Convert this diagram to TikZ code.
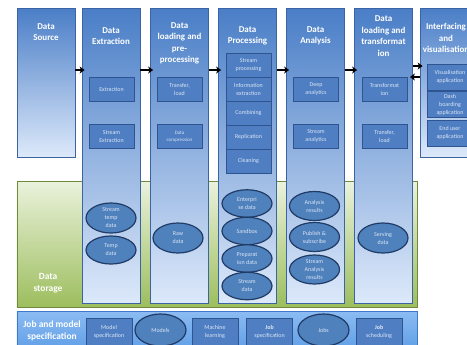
\documentclass[tikz,border=0pt]{standalone}
\usepackage{fontspec}
\setmainfont{Carlito}
\usetikzlibrary{shapes.geometric,arrows.meta}
\definecolor{colTop}{HTML}{4A7EC7}
\definecolor{colBot}{HTML}{DDE9FA}
\definecolor{colLine}{HTML}{3B64A4}
\definecolor{boxFill}{HTML}{4F7FC2}
\definecolor{boxLine}{HTML}{2E5590}
\definecolor{boxText}{HTML}{DCE6F5}
\definecolor{ellFill}{HTML}{4F81BD}
\definecolor{ellLine}{HTML}{1F3B66}
\definecolor{greenTop}{HTML}{EAF2DC}
\definecolor{greenBot}{HTML}{9DBE5E}
\definecolor{greenLine}{HTML}{6F8B3A}
\definecolor{jobTop}{HTML}{8CBCF2}
\definecolor{jobBot}{HTML}{4A90E2}
\definecolor{jobLine}{HTML}{3D78C9}
\tikzset{
  column/.style={draw=colLine, line width=0.8bp, top color=colTop, bottom color=colBot, minimum width=58bp, inner sep=0},
  title/.style={text=white, font=\fontsize{9}{11.5}\selectfont\bfseries, align=center},
  task/.style={draw=boxLine, line width=0.8bp, fill=boxFill, text=boxText, font=\fontsize{6}{8}\selectfont, align=center, minimum width=45bp, minimum height=24bp, inner sep=0},
  store/.style={ellipse, draw=ellLine, line width=1.2bp, fill=ellFill, text=boxText, font=\fontsize{6}{8}\selectfont, align=center, minimum width=50bp, minimum height=29bp, inner sep=0},
  arr/.style={-{Stealth[length=5bp,width=7bp,inset=1.5bp]}, line width=1.5bp, shorten >=-3bp},
}
\begin{document}
\begin{tikzpicture}[x=1bp,y=-1bp]
\useasboundingbox (0,0) rectangle (467,344);
\clip (0,0) rectangle (467,344);
% storage layer and job bar
\node[draw=greenLine, line width=0.8bp, top color=greenTop, bottom color=greenBot, minimum width=400bp, minimum height=126bp, inner sep=0] (storage) at (217,244) {};
\node[draw=jobLine, line width=0.8bp, top color=jobTop, bottom color=jobBot, minimum width=400bp, minimum height=58bp, inner sep=0] (jobbar) at (217,340) {};
% columns
\node[column, minimum height=149bp] (src) at (46,82.5) {};
\node[column, minimum height=295bp] (extr) at (111,155.5) {};
\node[column, minimum height=295bp] (load) at (179.5,155.5) {};
\node[column, minimum height=295bp] (proc) at (247.5,155.5) {};
\node[column, minimum height=295bp] (anal) at (315.5,155.5) {};
\node[column, minimum height=295bp] (trans) at (383.5,155.5) {};
\node[column, minimum height=149bp] (vis) at (449,82.5) {};
% titles
\node[title] (srcT) at (46,32) {Data\\Source};
\node[title] (extrT) at (111,36) {Data\\Extraction};
\node[title] (loadT) at (179.5,43.5) {Data\\loading and\\pre-\\processing};
\node[title] (procT) at (247.5,36) {Data\\Processing};
\node[title] (analT) at (315.5,36) {Data\\Analysis};
\node[title] (transT) at (383.5,36) {Data\\loading and\\transformat\\ion};
\node[title] (visT) at (446,38) {Interfacing\\and\\visualisation};
\node[title, font=\fontsize{9.5}{12}\selectfont\bfseries] (storeT) at (48,283) {Data\\storage};
\node[title, font=\fontsize{9.5}{12}\selectfont\bfseries] (jobT) at (52,331) {Job and model\\specification};
% tasks
\node[task] (extraction) at (111.5,89) {Extraction};
\node[task] (streamExtr) at (111.5,136.5) {Stream\\Extraction};
\node[task] (transferA) at (179.5,89) {Transfer,\\load};
\node[task, font=\fontsize{5}{7}\selectfont] (compress) at (179.5,136.5) {Data\\compression};
\node[task] (streamProc) at (248.5,65) {Stream\\processing};
\node[task] (infoExtr) at (248.5,89) {Information\\extraction};
\node[task] (combining) at (248.5,113) {Combining};
\node[task] (replication) at (248.5,137) {Replication};
\node[task] (cleaning) at (248.5,161) {Cleaning};
\node[task] (deep) at (316,89) {Deep\\analytics};
\node[task] (streamAnal) at (316,136.5) {Stream\\analytics};
\node[task] (transform) at (384.5,89) {Transformat\\ion};
\node[task] (transferB) at (384.5,136.5) {Transfer,\\load};
\node[task, minimum width=46bp, minimum height=26bp] (visApp) at (450,77) {Visualisation\\application};
\node[task, minimum width=46bp, minimum height=26bp] (dashApp) at (450,104.5) {Dash\\boarding\\application};
\node[task, minimum width=46bp, minimum height=26bp] (endApp) at (450,133) {End user\\application};
% stores
\node[store, minimum height=30bp] (streamTemp) at (111,218) {Stream\\temp\\data};
\node[store, minimum height=28bp] (tempData) at (111,250) {Temp\\data};
\node[store, minimum height=30bp] (rawData) at (178,238) {Raw\\data};
\node[store, minimum height=27.5bp] (enterprise) at (247,203.5) {Enterpri\\se data};
\node[store, minimum height=27.5bp] (sandbox) at (247,231) {Sandbox};
\node[store, minimum height=27.5bp] (preparation) at (247,258.5) {Preparat\\ion data};
\node[store, minimum height=27.5bp] (streamData) at (247,286) {Stream\\data};
\node[store] (analRes) at (314.5,206) {Analysis\\results};
\node[store] (publish) at (314.5,237) {Publish \&\\subscribe};
\node[store] (streamRes) at (314.5,269.5) {Stream\\Analysis\\results};
\node[store, minimum height=30bp] (serving) at (383,238) {Serving\\data};
% job bar items
\node[task, minimum width=46bp, minimum height=28bp] (modelSpec) at (109,332) {Model\\specification};
\node[store, minimum width=51bp, minimum height=32bp] (models) at (160.5,330) {Models};
\node[task, minimum width=46bp, minimum height=28bp] (learning) at (215,332) {Machine\\learning};
\node[task, minimum width=46bp, minimum height=28bp] (jobSpec) at (269.5,332) {\textbf{Job}\\specification};
\node[store, minimum width=51bp, minimum height=32bp] (jobsNode) at (323.5,330) {Jobs};
\node[task, minimum width=46bp, minimum height=28bp] (jobSched) at (379,332) {\textbf{Job}\\scheduling};
% arrows
\coordinate (arrowrow) at (0,70);
\coordinate (fwdrow) at (0,66);
\coordinate (backrow) at (0,77);
\draw[arr] (src.east |- arrowrow) -- (extr.west |- arrowrow);
\draw[arr] (extr.east |- arrowrow) -- (load.west |- arrowrow);
\draw[arr] (load.east |- arrowrow) -- (proc.west |- arrowrow);
\draw[arr] (proc.east |- arrowrow) -- (anal.west |- arrowrow);
\draw[arr] (anal.east |- arrowrow) -- (trans.west |- arrowrow);
\draw[arr] (trans.east |- fwdrow) -- (vis.west |- fwdrow);
\draw[arr] (vis.west |- backrow) -- (trans.east |- backrow);
\end{tikzpicture}
\end{document}
